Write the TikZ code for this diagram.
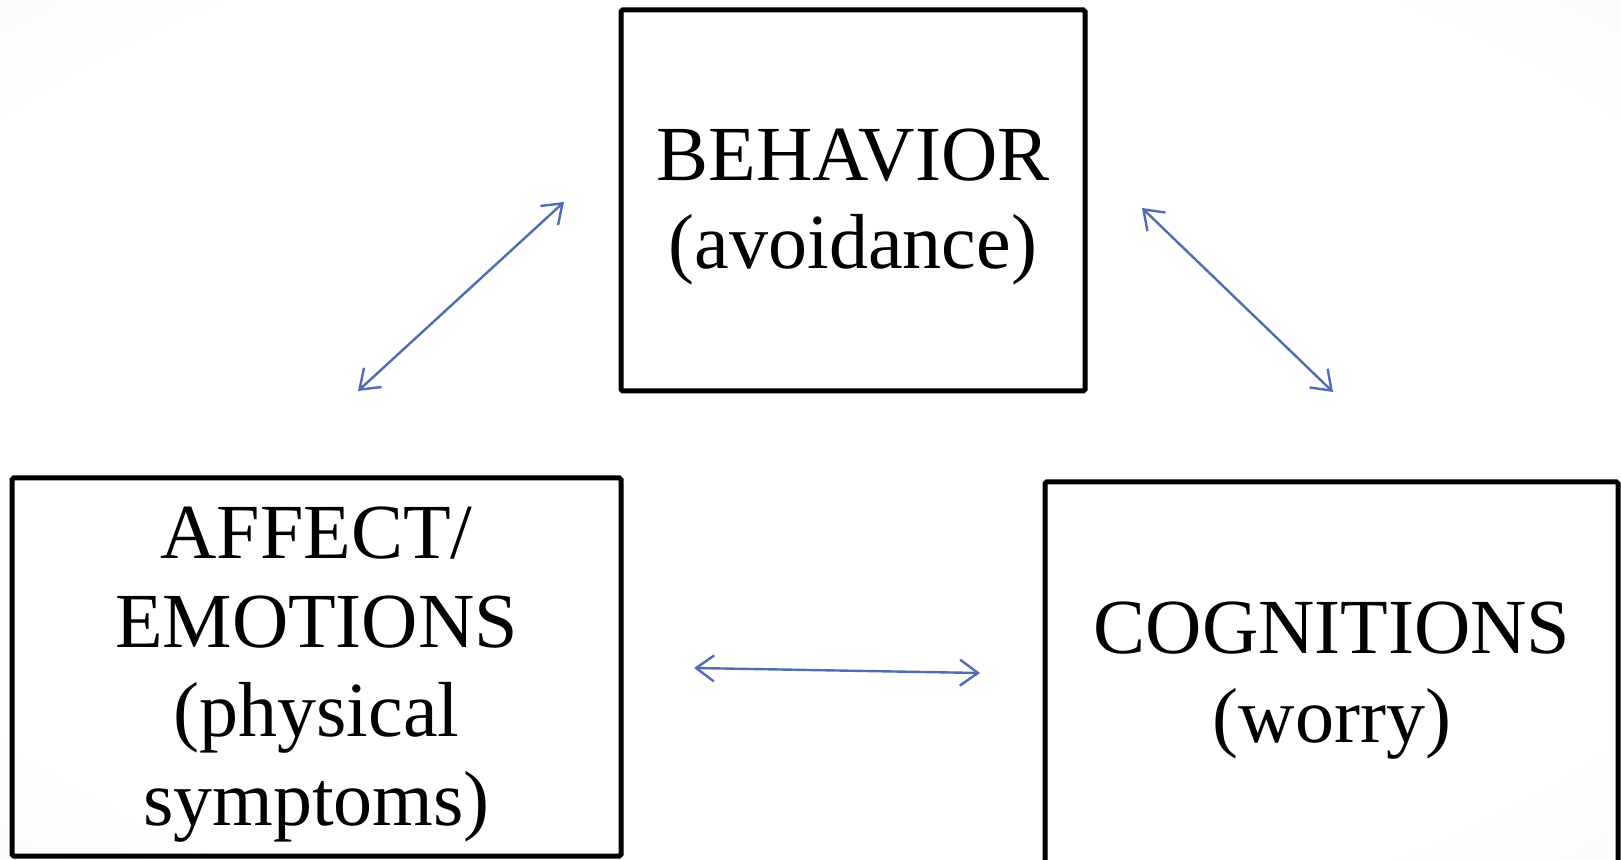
\documentclass[tikz,border=0pt]{standalone}
\usepackage{fontspec}
\setmainfont{Liberation Serif}
\usetikzlibrary{arrows.meta}
\definecolor{arrowblue}{RGB}{80,108,180}
\pgfdeclareradialshading{bgshade}{\pgfpoint{0bp}{0bp}}{color(0bp)=(white); color(30bp)=(white); color(62bp)=(black!8); color(100bp)=(black!8)}
\begin{document}
\begin{tikzpicture}[x=0.5pt,y=-0.5pt,
  box/.style={draw=black, line width=2.5pt, rounded corners=0.8pt, inner sep=0pt},
  txt/.style={anchor=base, inner sep=0pt, font=\fontsize{39}{44}\selectfont},
  link/.style={draw=arrowblue, line width=1.2pt,
    {Straight Barb[length=9pt,width=13pt]}-{Straight Barb[length=9pt,width=13pt]}}]
\useasboundingbox (0,0) rectangle (1621,860);
\clip (0,0) rectangle (1621,860);
\shade[shading=bgshade] (0,0) rectangle (1621,860);

% boxes
\node[box, minimum width=232pt, minimum height=190.5pt] (beh) at (853,200.5) {};
\node[box, minimum width=304.5pt, minimum height=189pt] (aff) at (316.5,667) {};
\node[box, minimum width=286.5pt, minimum height=209pt] (cog) at (1331.5,691) {};

% texts
\node[txt] (behA) at (853,181) {BEHAVIOR};
\node[txt] (behB) at (853,269) {(avoidance)};
\node[txt] (affA) at (316.5,558) {AFFECT/};
\node[txt] (affB) at (316.5,647) {EMOTIONS};
\node[txt] (affC) at (316.5,736) {(physical};
\node[txt] (affD) at (316.5,825) {symptoms)};
\node[txt] (cogA) at (1332,653) {COGNITIONS};
\node[txt] (cogB) at (1332,742) {(worry)};

% arrow end points
\coordinate (a1s) at (358,391);
\coordinate (a1e) at (564,202);
\coordinate (a2s) at (1142,208);
\coordinate (a2e) at (1333,392);
\coordinate (a3s) at (694,668);
\coordinate (a3e) at (980,673);

\draw[link] (a1s) -- (a1e);
\draw[link] (a2s) -- (a2e);
\draw[link] (a3s) -- (a3e);
\end{tikzpicture}
\end{document}
